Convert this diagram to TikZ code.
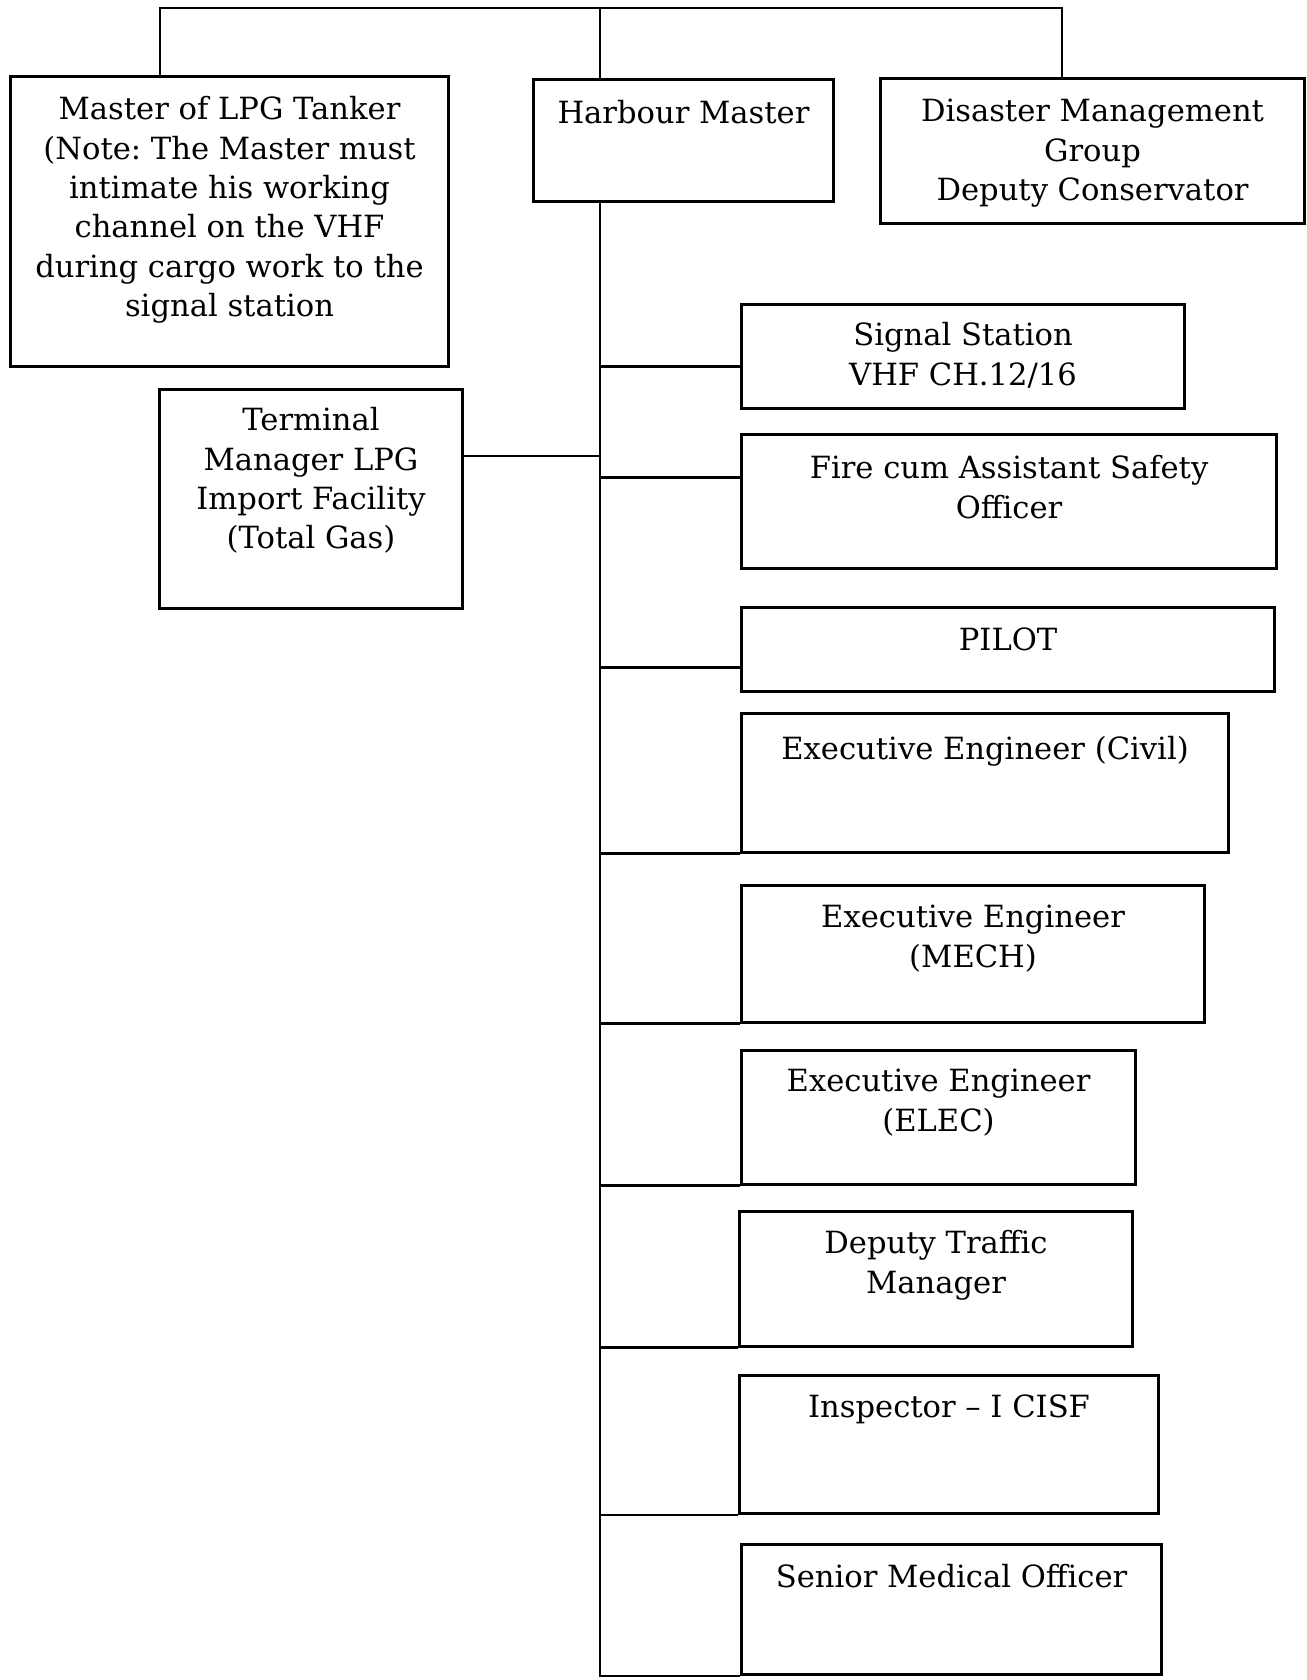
\documentclass[tikz,border=0pt]{standalone}
\usepackage{fontspec}
\setmainfont{DejaVu Serif}
\usetikzlibrary{positioning}

\begin{document}
\frenchspacing
\begin{tikzpicture}[x=0.01cm, y=-0.01cm, line width=0.8pt,
	post/.style={draw, anchor=north west, inner sep=0pt},
	lbl/.style={align=center, inner sep=0pt, font=\fontsize{8.7}{11.2}\selectfont}]
	\useasboundingbox (0,0) rectangle (1306,1680);
	
	%top row
	\node[post, minimum width=4.38cm, minimum height=2.90cm] (master) at (9,75) {};
	\node[lbl, below=0.20cm of master.north] (master-t) {Master of LPG Tanker\\(Note: The Master must\\intimate his working\\channel on the VHF\\during cargo work to the\\signal station};
	\node[post, minimum width=3.00cm, minimum height=1.22cm] (hm) at (532,78) {};
	\node[lbl, below=0.21cm of hm.north] (hm-t) {Harbour Master};
	\node[post, minimum width=4.24cm, minimum height=1.45cm] (dmg) at (879,77) {};
	\node[lbl, below=0.21cm of dmg.north] (dmg-t) {Disaster Management\\Group\\Deputy Conservator};
	
	%terminal
	\node[post, minimum width=3.03cm, minimum height=2.19cm] (term) at (158,388) {};
	\node[lbl, below=0.18cm of term.north] (term-t) {Terminal\\Manager LPG\\Import Facility\\(Total Gas)};
	
	%right column
	\node[post, minimum width=4.43cm, minimum height=1.04cm] (sig) at (740,303) {};
	\node[lbl, below=0.18cm of sig.north] (sig-t) {Signal Station\\VHF CH.12/16};
	\node[post, minimum width=5.35cm, minimum height=1.34cm] (fire) at (740,433) {};
	\node[lbl, below=0.21cm of fire.north] (fire-t) {Fire cum Assistant Safety\\Officer};
	\node[post, minimum width=5.33cm, minimum height=0.84cm] (pilot) at (740,606) {};
	\node[lbl, below=0.20cm of pilot.north] (pilot-t) {PILOT};
	\node[post, minimum width=4.87cm, minimum height=1.39cm] (civil) at (740,712) {};
	\node[lbl, below=0.23cm of civil.north] (civil-t) {Executive Engineer (Civil)};
	\node[post, minimum width=4.63cm, minimum height=1.37cm] (mech) at (740,884) {};
	\node[lbl, below=0.20cm of mech.north] (mech-t) {Executive Engineer\\(MECH)};
	\node[post, minimum width=3.94cm, minimum height=1.34cm] (elec) at (740,1049) {};
	\node[lbl, below=0.19cm of elec.north] (elec-t) {Executive Engineer\\(ELEC)};
	\node[post, minimum width=3.93cm, minimum height=1.35cm] (dtm) at (738,1210) {};
	\node[lbl, below=0.19cm of dtm.north] (dtm-t) {Deputy Traffic\\Manager};
	\node[post, minimum width=4.19cm, minimum height=1.38cm] (insp) at (738,1374) {};
	\node[lbl, below=0.19cm of insp.north] (insp-t) {Inspector – I CISF};
	\node[post, minimum width=4.20cm, minimum height=1.30cm] (smo) at (740,1543) {};
	\node[lbl, below=0.20cm of smo.north] (smo-t) {Senior Medical Officer};
	
	%bus along the top
	\coordinate (busL) at (160,8);
	\coordinate (busR) at (1062,8);
	\coordinate (spine) at (600,8);
	\draw (master.north -| busL) -- (busL) -- (busR) -- (dmg.north -| busR);
	\draw (spine) -- (hm.north -| spine);
	
	%spine below harbour master
	\draw (hm.south -| spine) |- (smo.south west);
	\coordinate (term-c) at ([yshift=0.43cm]term.east);
	\draw (term-c) -- (term-c -| spine);
	\foreach \n/\dy in {sig/-0.10, fire/0.24, pilot/-0.18}
	{
		\coordinate (\n-c) at ([yshift=\dy cm]\n.west);
		\draw (\n-c) -- (\n-c -| spine);
	}
	\foreach \n in {civil,mech,elec,dtm,insp}
	\draw (\n.south west) -- (\n.south west -| spine);
\end{tikzpicture}
\end{document}
